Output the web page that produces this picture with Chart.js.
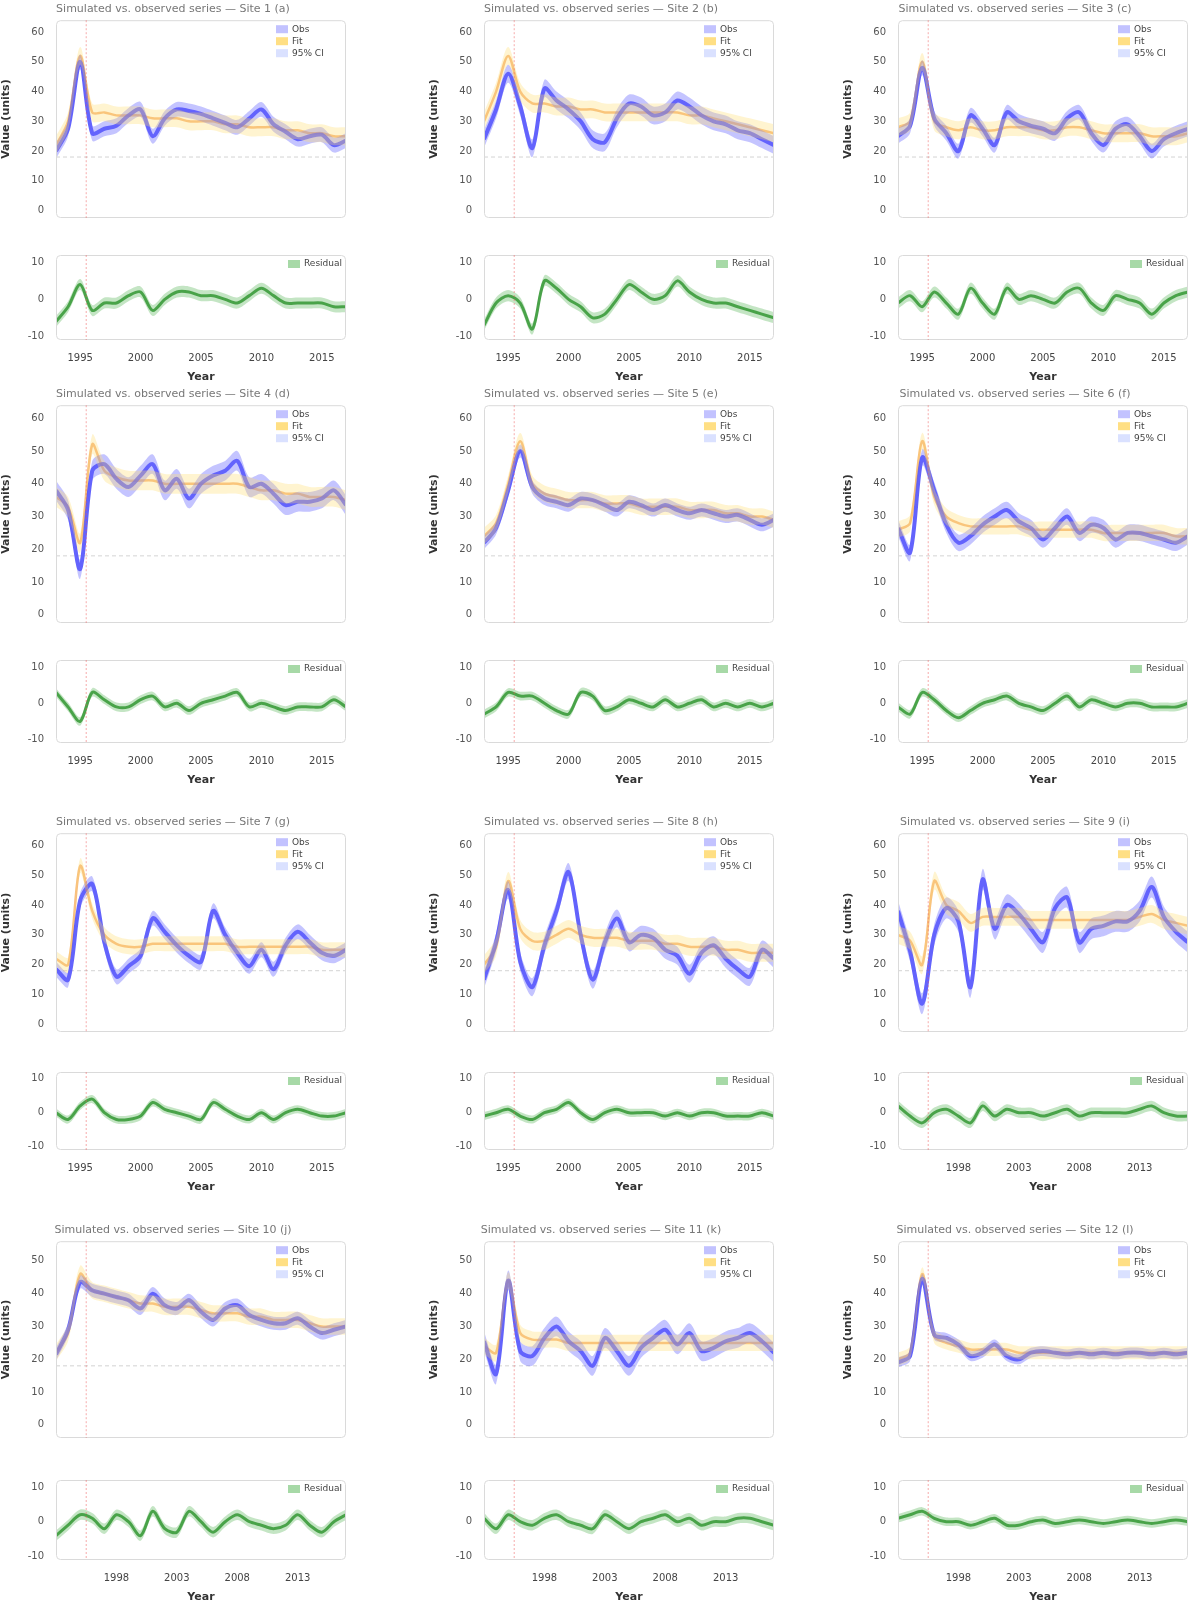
<!DOCTYPE html>
<html>
<head>
<meta charset="utf-8">
<script src="https://cdn.jsdelivr.net/npm/chart.js@4.4.0/dist/chart.umd.min.js"></script>
<style>
  body { margin: 0; background: #fff; width: 1200px; height: 1608px; position: relative; overflow: hidden; }
  canvas { position: absolute; }
</style>
</head>
<body>
<script>
// ---- data ----
const years = [1993,1994,1995,1996,1997,1998,1999,2000,2001,2002,2003,2004,2005,
               2006,2007,2008,2009,2010,2011,2012,2013,2014,2015,2016,2017];
const xTicksFive = [1995, 2000, 2005, 2010, 2015];
const xTicksFour = [1998, 2003, 2008, 2013];
const mainTicksTall = [0, 10, 20, 30, 40, 50, 60];
const mainTicksShort = [0, 10, 20, 30, 40, 50];
const resTicks = [-10, 0, 10];
const eventYear = 1995.5;
const refLevel = 18;

const titles = [
  "Simulated vs. observed series — Site 1 (a)",
  "Simulated vs. observed series — Site 2 (b)",
  "Simulated vs. observed series — Site 3 (c)",
  "Simulated vs. observed series — Site 4 (d)",
  "Simulated vs. observed series — Site 5 (e)",
  "Simulated vs. observed series — Site 6 (f)",
  "Simulated vs. observed series — Site 7 (g)",
  "Simulated vs. observed series — Site 8 (h)",
  "Simulated vs. observed series — Site 9 (i)",
  "Simulated vs. observed series — Site 10 (j)",
  "Simulated vs. observed series — Site 11 (k)",
  "Simulated vs. observed series — Site 12 (l)"
];
const legendLabels = ["Obs", "Fit", "95% CI"];
const residualLabel = "Residual";
const yLabel = "Value (units)";
const xLabel = "Year";

const obs01 = [20,27.5,50,26,27.5,28.5,32,34,25,31,34,33.5,32.5,31,29.5,28,31,34,29,26.5,24,25,25.5,22,23.5];
const fit01 = [22,30,52,33,33,32,32,32,31,31,31,30,30,30,29,29,28,28,28,27,27,26,26,25,25];
const res01 = [-6,-2,4,-3,-1,-1,1,2,-3,0,2,2,1,1,0,-1,1,3,1,-1,-1,-1,-1,-2,-2];

const obs02 = [24,34,46,35,21,41,37,34,30,24,23,31,36,35,32,33,37,35,32,30,29,27,26,24,22];
const fit02 = [30,40,52,40,36,36,35,35,34,34,33,33,33,33,33,33,33,32,32,31,30,29,28,27,26];
const res02 = [-7,-1,1,-1,-8,5,3,0,-2,-5,-4,0,4,2,0,1,5,2,0,-1,-1,-2,-3,-4,-5];

const obs03 = [25,28.5,48,31,26,20,32,27.5,22,33,30,28.5,27.5,26,31,33,26,22,27.5,29,25,20,24,26,27.5];
const fit03 = [28,30,50,30,28,27,28,27,27,28,28,28,27,27,28,28,27,26,26,26,26,25,25,25,26];
const res03 = [-1,1,-2,2,-1,-4,3,-1,-4,3,0,1,0,-1,2,3,-1,-3,1,0,-1,-4,-1,1,2];

const obs04 = [38,32,14,44,46,41.5,39,42.5,46,38,41.5,35.5,40,42.5,44,47,39,40,37,33.5,34.5,34.5,35.5,38,33.5];
const fit04 = [36,33,22,52,44,42,41,41,41,40,40,40,40,40,40,40,39,38,38,37,37,36,36,36,35];
const res04 = [3,-1,-5,3,1,-1,-1,1,2,-1,0,-2,0,1,2,3,-1,0,-1,-2,-1,-1,-1,1,-1];

const obs05 = [22,26.5,38,50,39,35.5,34.5,33.5,35.5,35,33.5,32,34.5,33.5,32,33.5,32,31,32,31,30,30.5,29,27.5,29];
const fit05 = [24,28,40,53,40,37,36,35,35,35,34,34,34,33,33,33,33,32,32,32,31,31,30,30,29];
const res05 = [-3,-1,3,2,2,0,-2,-3,3,2,-2,-1,1,0,-1,1,-1,0,1,-1,0,-1,0,-1,0];

const obs06 = [26.5,19,48,38,27.5,22,24,27.5,30,32,28.5,26.5,23,26.5,30,25,27.5,26.5,23,25,25,24,23,22,24];
const fit06 = [26,28,53,36,30,28,27,27,27,27,27,26,26,26,26,26,26,25,25,25,25,25,25,24,24];
const res06 = [-1,-3,3,1,-2,-4,-2,0,1,2,0,-1,-2,0,2,-1,1,0,-1,0,0,-1,-1,-1,0];

const obs07 = [18.5,15,41.5,47,27.5,16,19.5,23,35.5,31,26.5,23,21,38,30,24,19.5,25,18.5,26.5,31,27.5,24,23,25];
const fit07 = [22,20,53,38,30,27,26,26,27,27,27,27,27,27,27,26,26,26,26,26,26,26,25,25,25];
const res07 = [0,-2,2,4,0,-2,-2,-1,3,1,0,-1,-2,3,1,-1,-2,0,-2,0,1,0,-1,-1,0];

const obs08 = [15,27.5,45,21,12.5,26.5,38,51,30,15,27.5,35.5,27.5,30,29,25,23,17,24,26.5,22,18.5,16,25,22];
const fit08 = [20,26,48,32,28,28,30,32,30,29,29,29,28,28,28,27,27,26,26,26,25,25,24,24,24];
const res08 = [-1,0,1,-1,-2,0,1,3,0,-2,0,1,0,0,0,-1,0,-1,0,0,-1,-1,-1,0,-1];

const obs09 = [38,24.5,7,30,39,34.5,12.5,48.5,32,40,37,32,27.5,39,42.5,27.5,32,33,34.5,34.5,38,46,36,31,27.5];
const fit09 = [30,28,20,48,40,38,34,36,36,36,36,35,35,35,35,35,35,35,35,35,36,37,35,34,33];
const res09 = [2,-1,-3,0,1,-1,-3,2,-1,1,0,0,-1,0,1,-1,0,0,0,0,1,2,0,-1,-1];

const obs10 = [21.5,29,43.5,41,40,39,38,35.5,40,36.5,35.5,38,34.5,32,35.5,36.5,33.5,32,31,31,32.5,30,28,29,30];
const fit10 = [22,28,46,41,40,39,38,37,37,36,36,36,35,34,34,34,33,33,32,32,32,31,30,30,30];
const res10 = [-4,-1,2,1,-2,2,0,-4,3,-2,-3,3,0,-3,0,2,0,-1,-2,-1,2,-1,-3,0,2];

const obs11 = [25.5,15.5,44,22.5,21,26.5,30,25.5,22.5,18,26.5,22.5,18,23.5,26.5,29,24.5,28,22.5,23.5,25.5,26.5,28,25.5,22];
const fit11 = [24,22,44,28,26,26,26,25,25,25,25,25,25,25,25,25,25,25,25,25,25,25,25,25,25];
const res11 = [1,-2,2,0,-1,1,2,0,-1,-2,2,0,-2,0,1,2,0,1,-1,0,0,1,1,0,-1];

const obs12 = [19,21,44.5,27.5,26.5,24.5,21,22,24.5,21,20,22,22.5,22,21.5,22,21.5,22,21.5,22,22,21.5,22,21.5,22];
const fit12 = [20,22,46,27,25,24,23,23,23,23,22,22,22,22,22,22,22,22,22,22,22,22,22,22,22];
const res12 = [1,2,3,1,0,0,-1,0,1,-1,-1,0,0.5,-0.5,0,0.5,0,-0.5,0,0.5,0,-0.5,0,0.5,0];

// half-widths of the uncertainty bands, one per panel
const obsErr = [2.5,3,2.5,3,2,2.5,2.5,3,3.5,2,3,1.5];
const fitErr = [3,3,3,3,2.5,2.5,2.5,3,3,2.5,2.5,2];
const resErr = [1.5,1.5,1.5,1.2,1.2,1.2,1.2,1.2,1.5,1.5,1.5,1.2];

const obsAll = [obs01,obs02,obs03,obs04,obs05,obs06,obs07,obs08,obs09,obs10,obs11,obs12];
const fitAll = [fit01,fit02,fit03,fit04,fit05,fit06,fit07,fit08,fit09,fit10,fit11,fit12];
const resAll = [res01,res02,res03,res04,res05,res06,res07,res08,res09,res10,res11,res12];

// ---- layout ----
const colLeft = [56, 484, 898];
const plotW = 290;
const axisW = 56;
const rows = [
  { top: 20,   mainB: 228,  resT: 245,  resB: 340 },
  { top: 405,  mainB: 633,  resT: 650,  resB: 743 },
  { top: 833,  mainB: 1042, resT: 1062, resB: 1150 },
  { top: 1241, mainB: 1448, resT: 1470, resB: 1560 }
];

const decor = {
  id: 'decor',
  beforeDatasetsDraw(chart, args, o) {
    const { ctx, chartArea: a, scales } = chart;
    if (o.refLevel == null) return;
    ctx.save();
    const y = scales.y.getPixelForValue(o.refLevel);
    ctx.strokeStyle = 'rgba(175,175,175,0.55)';
    ctx.setLineDash([4, 3]);
    ctx.lineWidth = 1;
    ctx.beginPath(); ctx.moveTo(a.left, y); ctx.lineTo(a.right, y); ctx.stroke();
    ctx.restore();
  },
  afterDatasetsDraw(chart, args, o) {
    const { ctx, chartArea: a, scales } = chart;
    ctx.save();
    ctx.strokeStyle = '#dadada';
    ctx.lineWidth = 1;
    ctx.beginPath();
    ctx.roundRect(a.left + 0.5, a.top + 0.5, a.width - 1, a.height - 1, 4);
    ctx.stroke();

    const x = scales.x.getPixelForValue(o.eventX);
    ctx.strokeStyle = 'rgba(240,90,90,0.5)';
    ctx.setLineDash([2, 2]);
    ctx.beginPath(); ctx.moveTo(x, a.top); ctx.lineTo(x, a.bottom); ctx.stroke();
    ctx.setLineDash([]);

    ctx.font = '9px "DejaVu Sans"';
    ctx.textBaseline = 'middle';
    o.items.forEach((it, k) => {
      const lx = a.right - o.legendW;
      const ly = a.top + 9 + k * 12;
      ctx.fillStyle = it.color;
      ctx.fillRect(lx, ly - 4, 12, 8);
      ctx.fillStyle = '#444';
      ctx.fillText(it.label, lx + 16, ly);
    });
    ctx.restore();
  }
};

function makeCanvas(left, top, w, h) {
  const c = document.createElement('canvas');
  c.width = w; c.height = h;
  c.style.left = left + 'px'; c.style.top = top + 'px';
  c.style.width = w + 'px'; c.style.height = h + 'px';
  document.body.appendChild(c);
  return c;
}

function pts(arr, off) {
  return years.map((x, i) => ({ x: x, y: arr[i] + off }));
}

function band(arr, err, color) {
  return [
    { data: pts(arr, err), borderWidth: 0, pointRadius: 0, fill: false, tension: 0.3 },
    { data: pts(arr, -err), borderWidth: 0, pointRadius: 0, fill: '-1', backgroundColor: color, tension: 0.3 }
  ];
}

function yAxis(min, max, ticks, withTitle) {
  return {
    min: min, max: max,
    afterFit: s => { s.width = axisW; },
    afterBuildTicks: s => { s.ticks = ticks.map(v => ({ value: v })); },
    grid: { display: false },
    border: { display: false },
    ticks: { font: { size: 10, family: 'DejaVu Sans' }, color: '#555', padding: 4 },
    title: { display: withTitle, text: yLabel, color: '#333', padding: 0,
             font: { size: 11, weight: 'bold', family: 'DejaVu Sans' } }
  };
}

for (let p = 0; p < 12; p++) {
  const r = rows[Math.floor(p / 3)];
  const c = p % 3;
  const left = colLeft[c] - axisW;
  const w = axisW + plotW + 3;
  const shortRow = p >= 9;
  const xTicks = (shortRow || p === 8) ? xTicksFour : xTicksFive;

  // main panel
  const mc = makeCanvas(left, r.top - 20, w, r.mainB - r.top + 20);
  new Chart(mc, {
    type: 'line',
    data: {
      datasets: [
        ...band(fitAll[p], fitErr[p], 'rgba(255,222,110,0.32)'),
        ...band(obsAll[p], obsErr[p], 'rgba(100,100,255,0.38)'),
        { data: pts(obsAll[p], 0), borderColor: 'rgba(60,60,250,0.8)', borderWidth: 4,
          pointRadius: 0, fill: false, tension: 0.3 },
        { data: pts(fitAll[p], 0), borderColor: 'rgba(240,130,30,0.55)', borderWidth: 2.5,
          pointRadius: 0, fill: false, tension: 0.3 }
      ]
    },
    options: {
      responsive: false, animation: false, devicePixelRatio: 1,
      layout: { padding: { left: 0, right: 3, top: 0, bottom: 0 } },
      plugins: {
        legend: { display: false }, tooltip: { enabled: false },
        title: { display: true, text: titles[p], color: '#777',
                 font: { size: 11, weight: 'normal', family: 'DejaVu Sans' }, padding: { top: 3, bottom: 4 } },
        decor: {
          refLevel: refLevel, eventX: eventYear, legendW: 70,
          items: [
            { color: 'rgba(120,120,255,0.45)', label: legendLabels[0] },
            { color: 'rgba(255,210,80,0.7)', label: legendLabels[1] },
            { color: 'rgba(150,170,255,0.35)', label: legendLabels[2] }
          ]
        }
      },
      scales: {
        x: { type: 'linear', min: 1993, max: 2017, display: false },
        y: shortRow ? yAxis(-4, 56, mainTicksShort, true) : yAxis(-2.5, 64, mainTicksTall, true)
      }
    },
    plugins: [decor]
  });

  // residual panel
  const rc = makeCanvas(left, r.resT, w, r.resB - r.resT + 44);
  new Chart(rc, {
    type: 'line',
    data: {
      datasets: [
        ...band(resAll[p], resErr[p], 'rgba(60,170,60,0.3)'),
        { data: pts(resAll[p], 0), borderColor: 'rgba(20,130,20,0.75)', borderWidth: 3,
          pointRadius: 0, fill: false, tension: 0.3 }
      ]
    },
    options: {
      responsive: false, animation: false, devicePixelRatio: 1,
      layout: { padding: { left: 0, right: 3, top: 0, bottom: 0 } },
      plugins: {
        legend: { display: false }, tooltip: { enabled: false },
        decor: {
          eventX: eventYear, legendW: 58,
          items: [{ color: 'rgba(60,170,60,0.45)', label: residualLabel }]
        }
      },
      scales: {
        x: {
          type: 'linear', min: 1993, max: 2017,
          afterFit: s => { s.height = 44; },
          afterBuildTicks: s => { s.ticks = xTicks.map(v => ({ value: v })); },
          grid: { display: false },
          border: { display: false },
          ticks: { font: { size: 10, family: 'DejaVu Sans' }, color: '#444', padding: 4, maxRotation: 0,
                   callback: v => String(v) },
          title: { display: true, text: xLabel, color: '#333', padding: 0,
                   font: { size: 11, weight: 'bold', family: 'DejaVu Sans' } }
        },
        y: yAxis(-11, 12, resTicks, false)
      }
    },
    plugins: [decor]
  });
}
</script>
</body>
</html>
